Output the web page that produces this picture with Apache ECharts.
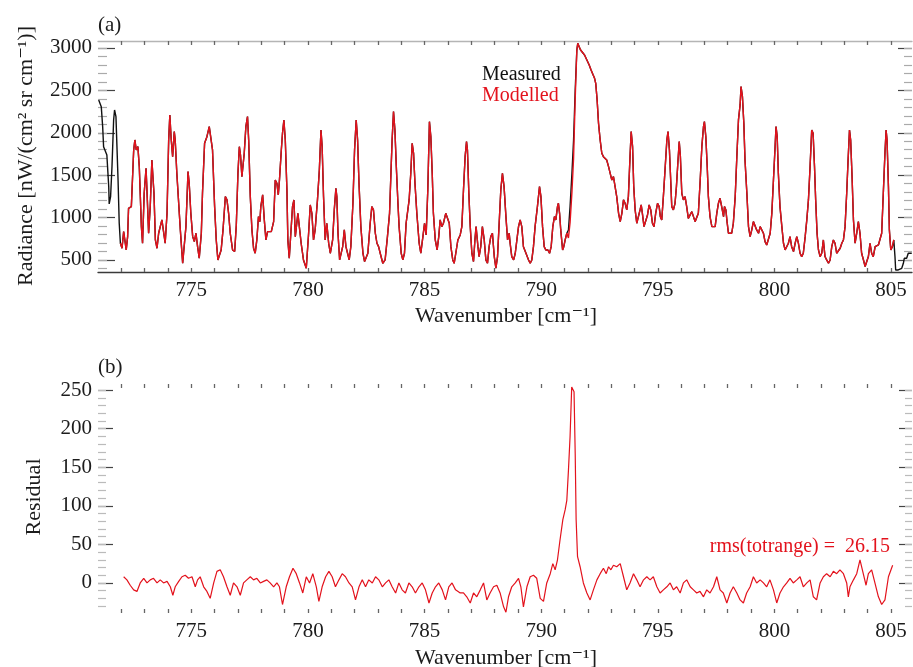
<!DOCTYPE html>
<html><head><meta charset="utf-8">
<script src="https://cdn.jsdelivr.net/npm/echarts@6/dist/echarts.min.js"></script>
<style>html,body{margin:0;padding:0;background:#fff}#c{width:913px;height:667px}</style>
</head><body><div id="c"></div>
<script>
// ---------- data (panel a) ----------
const wavenumber = [
771.03,771.14,771.20,771.24,771.31,771.38,771.46,771.48,771.54,771.60,771.67,771.71,771.77,771.86,771.91,
771.96,772.03,772.10,772.14,772.21,772.27,772.31,772.43,772.48,772.53,
772.58,772.64,772.71,772.77,772.86,772.91,772.98,773.06,773.11,773.17,
773.24,773.31,773.36,773.40,773.46,773.53,773.60,773.67,773.74,773.81,
773.88,773.96,774.03,774.08,774.14,774.20,774.27,774.31,774.38,774.53,
774.63,774.71,774.77,774.86,774.91,774.98,775.06,775.13,775.20,775.27,
775.34,775.43,775.48,775.57,775.67,775.77,775.84,775.91,776.00,776.07,
776.14,776.21,776.28,776.36,776.46,776.53,776.60,776.67,776.77,776.86,
776.93,777.00,777.06,777.11,777.17,777.27,777.34,777.41,777.46,777.53,
777.60,777.67,777.74,777.81,777.88,777.94,777.98,778.06,778.13,778.20,
778.27,778.34,778.43,778.53,778.60,778.67,778.73,778.78,778.86,778.91,
778.97,779.03,779.10,779.14,779.20,779.27,779.34,779.40,779.46,779.53,
779.57,779.63,779.71,779.81,779.93,780.03,780.10,780.17,780.24,780.31,
780.41,780.49,780.56,780.61,780.67,780.74,780.81,780.89,780.96,781.06,
781.13,781.20,781.24,781.29,781.36,781.43,781.49,781.56,781.63,781.70,
781.77,781.84,781.93,782.00,782.07,782.13,782.19,782.27,782.36,782.43,
782.50,782.57,782.67,782.74,782.81,782.89,782.96,783.03,783.10,783.21,
783.31,783.41,783.50,783.56,783.61,783.67,783.73,783.79,783.86,783.91,
784.00,784.07,784.14,784.21,784.27,784.34,784.41,784.47,784.53,784.59,
784.67,784.77,784.84,784.93,785.00,785.07,785.14,785.21,785.27,785.33,
785.38,785.46,785.54,785.61,785.67,785.74,785.81,785.91,785.99,786.06,
786.13,786.21,786.27,786.34,786.43,786.53,786.60,786.67,786.74,786.80,
786.84,786.90,786.96,787.03,787.10,787.16,787.21,787.29,787.34,787.41,
787.48,787.56,787.63,787.70,787.77,787.84,787.91,787.99,788.06,788.13,
788.20,788.27,788.34,788.41,788.49,788.56,788.63,788.67,788.74,788.82,
788.89,788.96,789.03,789.10,789.17,789.24,789.32,789.39,789.46,789.53,
789.60,789.67,789.74,789.84,789.93,789.99,790.06,790.13,790.20,790.29,
790.36,790.43,790.50,790.57,790.63,790.70,790.74,790.79,790.84,790.92,
790.97,791.03,791.10,791.17,791.24,791.32,791.39,791.46,791.53,791.57,
791.63,791.69,791.77,791.86,791.96,792.06,792.14,792.23,792.29,792.34,
792.40,792.46,792.53,792.60,792.67,792.74,792.81,792.89,792.96,793.03,
793.10,793.17,793.24,793.32,793.39,793.46,793.53,793.60,793.67,793.74,
793.81,793.86,793.92,793.97,794.03,794.10,794.17,794.24,794.29,794.34,
794.41,794.49,794.56,794.63,794.70,794.77,794.84,794.91,794.99,795.06,
795.11,795.17,795.24,795.32,795.39,795.44,795.50,795.56,795.60,795.67,
795.74,795.80,795.86,795.92,795.97,796.03,796.10,796.17,796.24,796.31,
796.39,796.46,796.53,796.60,796.67,796.74,796.82,796.89,796.96,797.00,
797.06,797.12,797.17,797.24,797.32,797.39,797.46,797.53,797.60,797.67,
797.74,797.82,797.86,797.92,797.97,798.03,798.10,798.17,798.24,798.32,
798.39,798.46,798.53,798.57,798.63,798.69,798.74,798.82,798.89,798.96,
799.03,799.10,799.17,799.24,799.32,799.39,799.46,799.53,799.60,799.67,
799.74,799.82,799.89,799.96,800.03,800.07,800.12,800.17,800.24,800.32,
800.39,800.46,800.53,800.60,800.67,800.74,800.82,800.89,800.96,801.03,
801.10,801.17,801.24,801.32,801.39,801.46,801.53,801.60,801.66,801.72,
801.77,801.83,801.89,801.96,802.03,802.10,802.17,802.24,802.32,802.39,
802.46,802.53,802.60,802.67,802.74,802.82,802.89,802.96,803.03,803.10,
803.16,803.22,803.27,803.33,803.39,803.46,803.53,803.60,803.67,803.74,
803.82,803.89,803.96,804.03,804.10,804.17,804.24,804.32,804.39,804.46,
804.53,804.60,804.67,804.74,804.79,804.83,804.89,804.93,804.99,805.06,
805.12,
805.17,805.20,805.31,805.39,805.46,805.53,805.57,805.63,805.67,805.74,805.82,805.89
];
const measured = [
2387,2308,2072,1836,1856,1738,1365,1160,1247,1601,2151,2269,2190,1443,933,
697,638,834,846,618,775,1109,1129,1149,1797,
1915,1797,1836,1601,893,697,1286,1581,1247,815,
1129,1679,1687,1286,736,638,815,834,972,991,
697,1050,1915,2210,1915,1718,2013,1915,1522,854,
461,441,893,1542,1404,1050,775,716,815,657,
520,815,1286,1876,1954,2072,2092,1797,1129,736,
500,500,618,854,1247,1208,1050,815,618,599,
913,1522,1836,1738,1483,1758,2072,2190,1915,1247,
854,638,579,736,1011,952,1129,1267,972,736,
834,854,834,952,1443,1404,1267,1443,1797,1994,
2151,1915,1326,736,520,540,1129,1208,775,756,
1050,1050,697,500,402,815,1149,1050,736,854,
1208,1561,2033,1836,1247,736,933,697,579,736,
1090,1345,1247,815,500,500,657,854,657,579,
500,657,1168,1797,2151,1915,1404,893,579,481,
461,579,933,1129,1090,815,697,657,579,461,
500,775,1050,1522,1915,2249,2033,1601,1168,893,
579,500,579,933,952,1208,1522,1876,1758,1404,
1050,697,579,775,933,795,1326,2131,1954,1522,
1050,736,618,775,972,893,933,1050,1050,933,
657,500,461,579,736,795,893,1326,1718,1895,
1797,1286,893,579,481,736,893,657,540,657,
893,736,500,461,657,775,815,540,402,540,
933,1326,1522,1365,1011,736,815,697,540,500,
579,736,893,972,893,657,599,579,500,461,
500,657,893,1129,1365,1247,893,657,618,618,
579,657,893,1011,972,1129,1168,1050,854,618,
657,736,815,854,1129,1522,1915,2505,2976,3055,
3015,2976,2956,2917,2858,2799,2740,2681,2642,2583,
2387,2112,1915,1758,1718,1738,1679,1601,1522,1443,
1483,1365,1247,1050,952,1050,1208,1168,1090,1247,
1718,2013,1836,1365,1090,933,952,1090,1149,1050,
893,893,1031,1149,1090,933,893,1050,1168,1129,
1011,972,1247,1601,1915,2013,1797,1404,1129,1090,
1168,1365,1640,1895,1718,1286,1208,1247,1129,991,
972,1070,1050,952,952,1050,1443,1836,2072,2131,
1954,1601,1247,1011,893,874,893,1050,1168,1227,
1129,1011,1129,1090,952,815,795,815,933,1247,
1718,2151,2328,2544,2426,2112,1679,1286,893,775,
854,952,952,854,815,893,893,815,716,677,
697,815,1050,1443,1836,2072,1954,1522,1129,893,
697,618,618,697,775,657,599,697,775,697,
579,540,579,775,972,1208,1601,2033,1994,1601,
1208,815,618,540,579,736,540,500,461,500,
657,736,697,579,559,638,697,736,893,1286,
1679,2033,1915,1483,972,697,815,952,815,579,
500,422,422,540,697,579,540,657,657,677,
657,815,1286,1758,2033,1915,1365,854,618,657,
736,
540,382,382,382,402,461,520,500,520,579,559,579
];
const modelled = [
null,null,null,null,null,null,null,null,null,null,null,null,null,null,null,
697,638,834,846,618,775,1109,1129,1149,1797,
1915,1797,1836,1601,893,697,1286,1581,1247,815,
1129,1679,1687,1286,736,638,815,834,972,991,
697,1050,1915,2210,1915,1718,2013,1915,1522,854,
461,441,893,1542,1404,1050,775,716,815,657,
520,815,1286,1876,1954,2072,2092,1797,1129,736,
500,500,618,854,1247,1208,1050,815,618,599,
913,1522,1836,1738,1483,1758,2072,2190,1915,1247,
854,638,579,736,1011,952,1129,1267,972,736,
834,854,834,952,1443,1404,1267,1443,1797,1994,
2151,1915,1326,736,520,540,1129,1208,775,756,
1050,1050,697,500,402,815,1149,1050,736,854,
1208,1561,2033,1836,1247,736,933,697,579,736,
1090,1345,1247,815,500,500,657,854,657,579,
500,657,1168,1797,2151,1915,1404,893,579,481,
461,579,933,1129,1090,815,697,657,579,461,
500,775,1050,1522,1915,2249,2033,1601,1168,893,
579,500,579,933,952,1208,1522,1876,1758,1404,
1050,697,579,775,933,795,1326,2131,1954,1522,
1050,736,618,775,972,893,933,1050,1050,933,
657,500,461,579,736,795,893,1326,1718,1895,
1797,1286,893,579,481,736,893,657,540,657,
893,736,500,461,657,775,815,540,402,540,
933,1326,1522,1365,1011,736,815,697,540,500,
579,736,893,972,893,657,599,579,500,461,
500,657,893,1129,1365,1247,893,657,618,618,
579,657,893,1011,972,1129,1168,1050,854,618,
657,736,815,760,940,1300,1700,2400,2976,3055,
3015,2976,2956,2917,2858,2799,2740,2681,2642,2583,
2387,2112,1915,1758,1718,1738,1679,1601,1522,1443,
1483,1365,1247,1050,952,1050,1208,1168,1090,1247,
1718,2013,1836,1365,1090,933,952,1090,1149,1050,
893,893,1031,1149,1090,933,893,1050,1168,1129,
1011,972,1247,1601,1915,2013,1797,1404,1129,1090,
1168,1365,1640,1895,1718,1286,1208,1247,1129,991,
972,1070,1050,952,952,1050,1443,1836,2072,2131,
1954,1601,1247,1011,893,874,893,1050,1168,1227,
1129,1011,1129,1090,952,815,795,815,933,1247,
1718,2151,2328,2544,2426,2112,1679,1286,893,775,
854,952,952,854,815,893,893,815,716,677,
697,815,1050,1443,1836,2072,1954,1522,1129,893,
697,618,618,697,775,657,599,697,775,697,
579,540,579,775,972,1208,1601,2033,1994,1601,
1208,815,618,540,579,736,540,500,461,500,
657,736,697,579,559,638,697,736,893,1286,
1679,2033,1915,1483,972,697,815,952,815,579,
500,422,422,540,697,579,540,657,657,677,
657,815,1286,1758,2033,1915,1365,854,618,657,
736,
null,null,null,null,null,null,null,null,null,null,null,null
];
// ---------- data (panel b) ----------
const residualWavenumber = [
772.10,772.24,772.38,772.53,772.67,772.81,772.96,773.10,773.24,773.38,
773.53,773.67,773.81,773.96,774.10,774.21,774.31,774.46,774.60,774.74,
774.88,775.03,775.17,775.27,775.38,775.53,775.67,775.81,775.96,776.10,
776.24,776.38,776.53,776.67,776.81,776.96,777.10,777.24,777.38,777.53,
777.67,777.81,777.96,778.10,778.24,778.38,778.53,778.67,778.78,778.91,
779.07,779.21,779.36,779.50,779.64,779.78,779.93,780.07,780.21,780.36,
780.47,780.61,780.76,780.90,781.04,781.18,781.33,781.47,781.61,781.76,
781.90,782.04,782.19,782.33,782.47,782.61,782.76,782.90,783.04,783.19,
783.33,783.47,783.61,783.76,783.90,784.04,784.18,784.33,784.47,784.61,
784.76,784.90,785.04,785.19,785.33,785.47,785.61,785.76,785.90,786.04,
786.18,786.33,786.53,786.67,786.81,786.96,787.10,787.24,787.39,787.53,
787.67,787.81,787.96,788.10,788.24,788.39,788.49,788.60,788.74,788.89,
789.03,789.13,789.24,789.39,789.53,789.67,789.81,789.96,790.10,790.24,
790.39,790.50,790.60,790.70,790.81,790.93,791.03,791.10,791.17,791.24,
791.31,791.36,791.41,791.46,791.50,791.56,791.67,791.81,791.96,792.10,
792.24,792.39,792.53,792.67,792.79,792.89,792.99,793.10,793.24,793.39,
793.53,793.67,793.81,793.96,794.10,794.24,794.39,794.53,794.67,794.81,
794.96,795.10,795.24,795.39,795.53,795.67,795.81,795.96,796.10,796.24,
796.39,796.53,796.67,796.81,796.96,797.10,797.24,797.39,797.53,797.67,
797.81,797.96,798.10,798.24,798.39,798.53,798.67,798.81,798.96,799.10,
799.24,799.39,799.53,799.67,799.81,799.96,800.10,800.24,800.39,800.53,
800.67,800.81,800.96,801.10,801.24,801.39,801.53,801.67,801.81,801.96,
802.10,802.24,802.39,802.53,802.67,802.81,802.96,803.10,803.17,803.24,
803.39,803.53,803.67,803.81,803.93,804.03,804.17,804.31,804.46,804.60,
804.74,804.89,805.07
];
const residual = [
8,4,-3,-9,-11,0,6,0,4,6,
0,4,0,2,-5,-16,-5,2,8,10,
6,8,-5,4,8,-5,-11,-20,0,15,
17,8,-5,-16,0,-5,-16,0,4,8,
4,6,0,2,4,0,-5,0,-5,-28,
-5,8,19,12,0,-13,8,0,12,-5,
-24,-5,8,15,8,-5,4,12,8,0,
-5,-22,-5,4,-5,4,0,8,4,-5,
0,4,-5,-13,0,-9,-13,0,-5,-13,
-5,0,-9,-26,-13,-5,0,-9,-22,-5,
0,-9,-13,-13,-18,-26,-13,-18,-9,0,
-22,-13,-5,-3,-13,-31,-38,-18,-5,0,
6,-5,-31,-5,8,10,6,-20,-24,0,
12,25,17,30,56,82,95,107,146,190,
254,256,248,168,82,34,21,0,-13,-22,
-9,4,12,19,12,21,17,23,21,25,
8,-9,0,12,4,-5,4,8,4,8,
-5,-13,-9,-5,0,-9,-5,-13,0,4,
-5,-9,-13,-11,-18,-9,-13,-5,8,-9,
-13,-26,-13,-5,-13,-22,-26,-13,-5,8,
0,4,0,-5,4,-9,-26,-13,-5,0,
6,0,4,8,-5,0,4,-18,-22,0,
8,12,8,15,12,17,12,0,-18,-5,
4,12,30,12,-3,12,17,0,-18,-28,
-22,8,23
];
// ---------- ticks ----------
const wavenumberTickLabels = [775,780,785,790,795,800,805];
const wavenumberMinorTicks = [772,773,774,775,776,777,778,779,780,781,782,783,784,785,786,787,788,789,790,791,792,793,794,795,796,797,798,799,800,801,802,803,804,805];
const radianceTickLabels = [500,1000,1500,2000,2500,3000];
const radianceMinorTicks = [400,500,600,700,800,900,1000,1100,1200,1300,1400,1500,1600,1700,1800,1900,2000,2100,2200,2300,2400,2500,2600,2700,2800,2900,3000];
const residualTickLabels = [0,50,100,150,200,250];
const residualMinorTicks = [-30,-20,-10,0,10,20,30,40,50,60,70,80,90,100,110,120,130,140,150,160,170,180,190,200,210,220,230,240,250];

// ---------- chart ----------
const FONT = '"Liberation Serif", "DejaVu Serif", serif';
const TXT = '#1c1c1c';
const RED = '#e3121c';
const X_MIN = 771, X_MAX = 805.9;

function xAxis(grid, pos, labels, lineColor) {
  return {
    type: 'value', gridIndex: grid, position: pos, min: X_MIN, max: X_MAX,
    axisLine: {show: !!lineColor, onZero: false, lineStyle: {color: lineColor || '#000', width: 1.3}},
    axisTick: {show: true, inside: true, length: 4, customValues: wavenumberMinorTicks, lineStyle: {color: '#666', width: 1.3}},
    axisLabel: {show: labels, customValues: wavenumberTickLabels, formatter: v => String(v),
                fontFamily: FONT, fontSize: 21, color: TXT, margin: 8},
    splitLine: {show: false}
  };
}
function yAxis(grid, pos, min, max, ticks, len, color, labels) {
  return {
    type: 'value', gridIndex: grid, position: pos, min: min, max: max,
    axisLine: {show: false},
    axisTick: {show: true, inside: true, length: len, customValues: ticks, lineStyle: {color: color, width: 1.2}},
    axisLabel: {show: labels, customValues: ticks, formatter: v => String(v),
                fontFamily: FONT, fontSize: 21, color: TXT, margin: 6},
    splitLine: {show: false}
  };
}
function txt(x, y, text, color, size, align, rot) {
  return {
    type: 'text', x: x, y: y, rotation: rot || 0,
    style: {text: text, fontFamily: FONT, fontSize: size, fill: color,
            align: align, verticalAlign: 'middle'}
  };
}

const option = {
  animation: false,
  backgroundColor: '#fff',
  grid: [
    {left: 98, top: 41, width: 814, height: 231},
    {left: 98, top: 384, width: 814, height: 229}
  ],
  xAxis: [
    xAxis(0, 'bottom', true, '#3a3a3a'),
    xAxis(0, 'top', false, '#b5b5b5'),
    xAxis(1, 'bottom', true, null),
    xAxis(1, 'top', false, null)
  ],
  yAxis: [
    yAxis(0, 'left', 358, 3082, radianceTickLabels, 17, '#444', true),
    yAxis(0, 'left', 358, 3082, radianceMinorTicks, 9, '#aaa', false),
    yAxis(0, 'right', 358, 3082, radianceTickLabels, 14, '#444', false),
    yAxis(0, 'right', 358, 3082, radianceMinorTicks, 8, '#aaa', false),
    yAxis(1, 'left', -39, 258, residualTickLabels, 15, '#444', true),
    yAxis(1, 'left', -39, 258, residualMinorTicks, 8, '#bbb', false),
    yAxis(1, 'right', -39, 258, residualTickLabels, 13, '#444', false),
    yAxis(1, 'right', -39, 258, residualMinorTicks, 7, '#bbb', false)
  ],
  series: [
    {type: 'line', name: 'Measured', xAxisIndex: 0, yAxisIndex: 0, showSymbol: false, symbol: 'none',
     lineStyle: {color: '#111', width: 1.4}, z: 2,
     data: wavenumber.map((w, i) => [w, measured[i]])},
    {type: 'line', name: 'Modelled', xAxisIndex: 0, yAxisIndex: 0, showSymbol: false, symbol: 'none',
     lineStyle: {color: RED, width: 1.4}, z: 3,
     data: wavenumber.map((w, i) => [w, modelled[i]]).filter(p => p[1] !== null)},
    {type: 'line', name: 'Residual', xAxisIndex: 2, yAxisIndex: 4, showSymbol: false, symbol: 'none',
     lineStyle: {color: RED, width: 1.2}, z: 3,
     data: residualWavenumber.map((w, i) => [w, residual[i]])}
  ],
  graphic: [
    txt(98, 25, '(a)', TXT, 21, 'left'),
    txt(98, 367, '(b)', TXT, 21, 'left'),
    txt(26, 156, 'Radiance [nW/(cm² sr cm⁻¹)]', TXT, 22, 'center', Math.PI / 2),
    txt(34, 497, 'Residual', TXT, 22, 'center', Math.PI / 2),
    txt(506, 316, 'Wavenumber [cm⁻¹]', TXT, 22, 'center'),
    txt(506, 658, 'Wavenumber [cm⁻¹]', TXT, 22, 'center'),
    txt(482, 75, 'Measured', '#111', 20, 'left'),
    txt(482, 96, 'Modelled', RED, 20, 'left'),
    txt(890, 547, 'rms(totrange) =  26.15', RED, 20, 'right')
  ]
};
const chart = echarts.init(document.getElementById('c'), null, {renderer: 'canvas'});
chart.setOption(option);
</script>
</body></html>
